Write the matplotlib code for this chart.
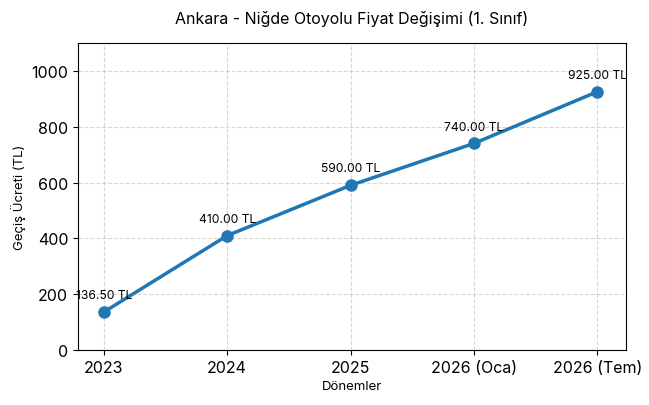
import matplotlib
matplotlib.use("Agg")
from matplotlib import pyplot as plt

plt.rcParams['font.family'] = ['Inter', 'DejaVu Sans']

## data
periods = ['2023', '2024', '2025', '2026 (Oca)', '2026 (Tem)']
prices = [136.50, 410.00, 590.00, 740.00, 925.00]

fig = plt.figure(figsize=(6.49, 4.06), dpi=100)
ax = fig.add_axes([0.120, 0.135, 0.845, 0.757])

x = list(range(len(periods)))
ax.plot(x, prices, marker='o', color='#1f77b4', linewidth=2.5, markersize=8)

for xi, p in zip(x, prices):
    ax.annotate(f'{p:.2f} TL', (xi, p), textcoords='offset points',
                xytext=(0, 10), ha='center', fontsize=8.7)

ax.set_xticks(x)
ax.set_xticklabels(periods, fontsize=11.5)
ax.tick_params(axis='y', labelsize=11.5)
ax.set_xlim(-0.21, 4.235)
ax.set_ylim(0, 1100)
ax.grid(True, linestyle='--', alpha=0.5)

ax.set_title('Ankara - Niğde Otoyolu Fiyat Değişimi (1. Sınıf)', fontsize=11.5, pad=14)
ax.set_xlabel('Dönemler', fontsize=9.5)
ax.set_ylabel('Geçiş Ücreti (TL)', fontsize=9.5)

fig.savefig('out.png', dpi=100)
